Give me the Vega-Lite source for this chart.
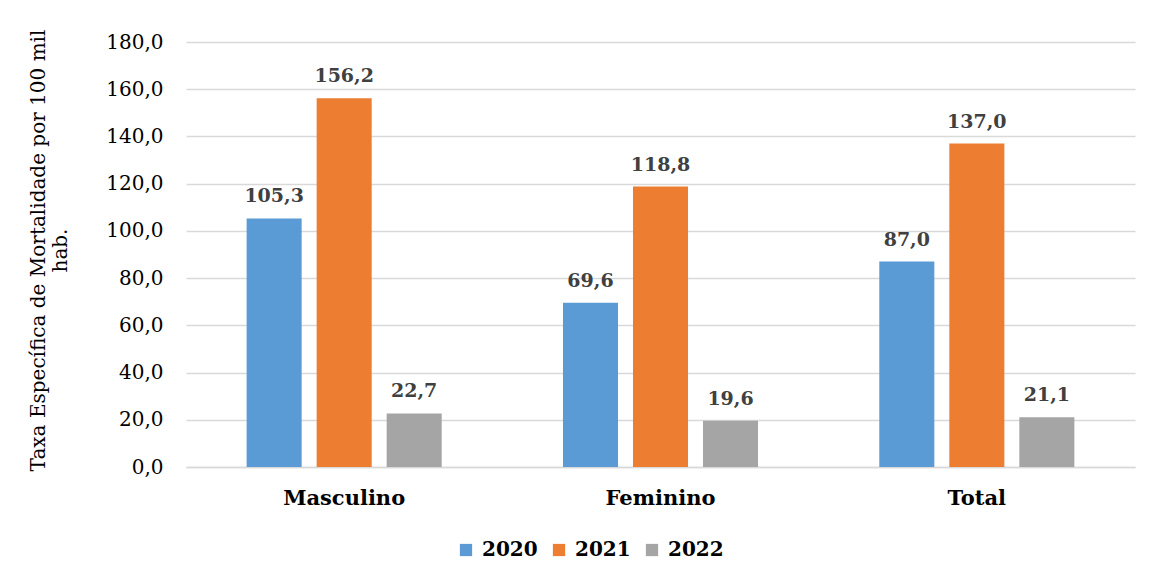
{
  "$schema": "https://vega.github.io/schema/vega-lite/v6.json",
  "autosize": {"type": "none"},
  "width": 949,
  "height": 425,
  "padding": {"left": 186, "top": 42, "right": 16, "bottom": 114},
  "background": "white",
  "config": {
    "locale": {"number": {"decimal": ",", "thousands": ".", "grouping": [3], "currency": ["R$", ""]}},
    "view": {"stroke": null},
    "font": "DejaVu Serif"
  },
  "data": {
    "values": [
      {"sexo": "Masculino", "ano": "2020", "taxa": 105.3},
      {"sexo": "Masculino", "ano": "2021", "taxa": 156.2},
      {"sexo": "Masculino", "ano": "2022", "taxa": 22.7},
      {"sexo": "Feminino", "ano": "2020", "taxa": 69.6},
      {"sexo": "Feminino", "ano": "2021", "taxa": 118.8},
      {"sexo": "Feminino", "ano": "2022", "taxa": 19.6},
      {"sexo": "Total", "ano": "2020", "taxa": 87.0},
      {"sexo": "Total", "ano": "2021", "taxa": 137.0},
      {"sexo": "Total", "ano": "2022", "taxa": 21.1}
    ]
  },
  "encoding": {
    "x": {
      "field": "sexo", "type": "nominal", "sort": ["Masculino", "Feminino", "Total"],
      "scale": {"paddingInner": 0, "paddingOuter": 0},
      "axis": {
        "title": null, "labelAngle": 0, "ticks": false, "domainColor": "#d9d9d9", "domainWidth": 1.5,
        "labelFont": "DejaVu Serif", "labelFontWeight": "bold", "labelFontSize": 21, "labelColor": "#000000",
        "labelPadding": 20
      }
    },
    "xOffset": {"field": "ano", "type": "nominal", "scale": {"paddingInner": 0.214, "paddingOuter": 0.866}},
    "y": {
      "field": "taxa", "type": "quantitative",
      "scale": {"domain": [0, 180], "nice": false},
      "axis": {
        "title": ["Taxa Específica de Mortalidade por 100 mil", "hab."],
        "titleFont": "DejaVu Serif", "titleFontWeight": "normal", "titleFontSize": 20, "titleColor": "#000000",
        "titlePadding": 35, "titleY": 208,
        "values": [0, 20, 40, 60, 80, 100, 120, 140, 160, 180],
        "format": ".1f", "domain": false, "ticks": false,
        "labelFont": "DejaVu Serif", "labelFontSize": 20, "labelColor": "#000000", "labelPadding": 23,
        "gridColor": "#d9d9d9", "gridWidth": 1.5
      }
    }
  },
  "layer": [
    {
      "mark": {"type": "bar"},
      "encoding": {
        "color": {
          "field": "ano", "type": "nominal",
          "scale": {"domain": ["2020", "2021", "2022"], "range": ["#5B9BD5", "#ED7D31", "#A5A5A5"]},
          "legend": {
            "title": null, "orient": "none", "legendX": 270, "legendY": 498, "direction": "horizontal",
            "symbolType": "square", "symbolSize": 150, "symbolStrokeWidth": 0,
            "labelFont": "DejaVu Serif", "labelFontWeight": "bold", "labelFontSize": 20, "labelColor": "#000000",
            "labelOffset": 6, "columnPadding": 11
          }
        }
      }
    },
    {
      "mark": {"type": "text", "baseline": "alphabetic", "dy": -16, "font": "DejaVu Serif", "fontWeight": "bold", "fontSize": 19, "color": "#404040"},
      "encoding": {
        "text": {"field": "taxa", "type": "quantitative", "format": ".1f"}
      }
    }
  ]
}
